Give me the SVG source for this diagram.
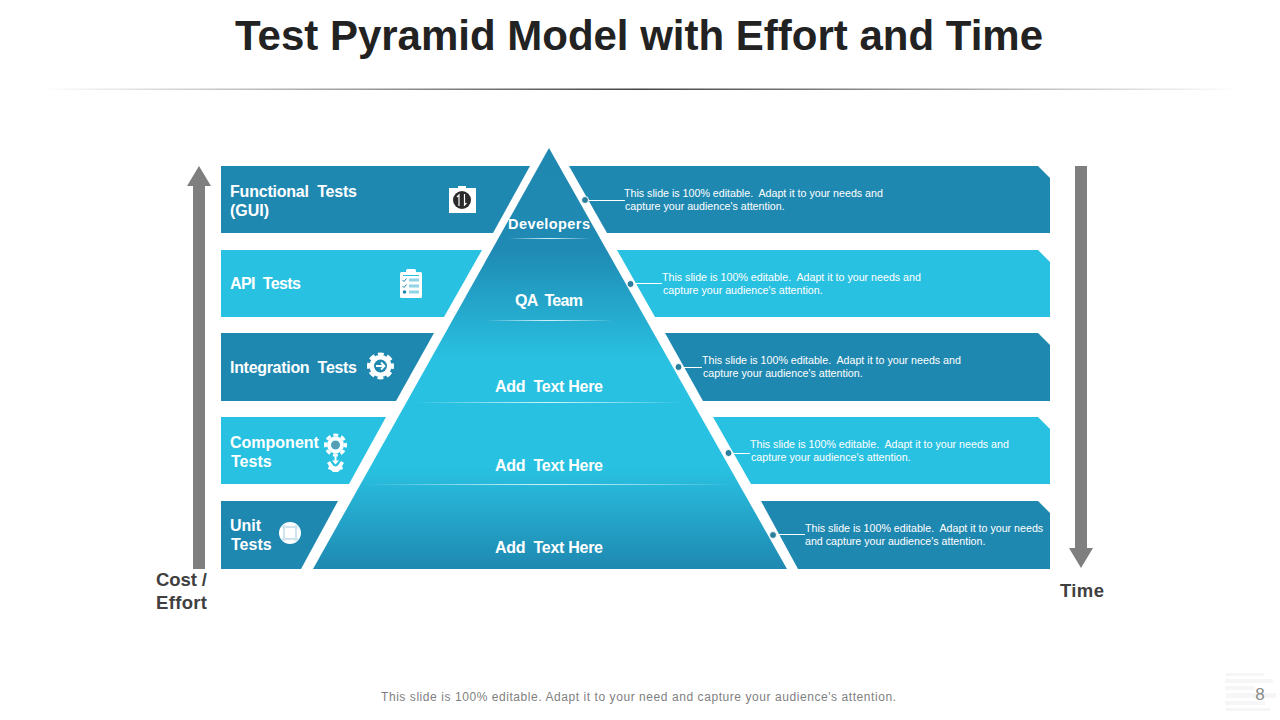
<svg xmlns="http://www.w3.org/2000/svg" width="1280" height="720" viewBox="0 0 1280 720">
<style>
text{font-family:"Liberation Sans",Arial,sans-serif;white-space:pre}
.dark{fill:#1f88b1}.light{fill:#29c1e1}
.lab{fill:#fff;font-weight:700;font-size:16px}
.desc{fill:#fff;font-size:10.67px}
.pt{fill:#fff;font-weight:700;font-size:16px;text-anchor:middle}
.ax{fill:#404040;font-weight:700;font-size:18.500px}
.lead{stroke:#fff;stroke-width:1;fill:none}
.dot{fill:#2a7f9c;stroke:#fff;stroke-width:1}
.arrow{fill:#7f7f7f}
.ic{fill:#fff}
</style>
<defs>
<linearGradient id="rule" x1="0" x2="1" y1="0" y2="0"><stop offset="0" stop-color="#fff"/><stop offset=".5" stop-color="#444"/><stop offset="1" stop-color="#fff"/></linearGradient>
<linearGradient id="pyr" gradientUnits="userSpaceOnUse" x1="0" y1="148" x2="0" y2="569">
<stop offset="0" stop-color="#1f88b1"/><stop offset=".24" stop-color="#1f8ab3"/><stop offset=".5" stop-color="#29c1e1"/><stop offset=".76" stop-color="#29c1e1"/><stop offset="1" stop-color="#1f88b1"/>
</linearGradient>
<linearGradient id="fade" x1="0" x2="1" y1="0" y2="0"><stop offset="0" stop-color="#fff" stop-opacity="0"/><stop offset=".5" stop-color="#cdf3fb"/><stop offset="1" stop-color="#fff" stop-opacity="0"/></linearGradient>
</defs>
<rect width="1280" height="720" fill="#fff"/>
<g id="title">
<text x="235" y="50" font-size="42" font-weight="700" fill="#222" textLength="808" lengthAdjust="spacing">Test Pyramid Model with Effort and Time</text>
<rect x="40" y="88.500" width="1200" height="1.500" fill="url(#rule)"/>
</g>
<g id="row-functional">
<polygon class="dark" points="221,166 530,166 493,233 221,233"/>
<text class="lab" x="230" y="197" textLength="127">Functional  Tests</text><text class="lab" x="230" y="216">(GUI)</text>
<rect class="ic" x="449" y="188" width="27" height="25"/><rect class="ic" x="458" y="186" width="8" height="3"/>
<circle cx="462" cy="200" r="9" fill="#2b2b2b"/><path d="M459 206V195l-2 2M464.500 194v11l2-2" stroke="#fff" stroke-width="1.200" fill="none"/>
</g>
<g id="row-api">
<polygon class="light" points="221,250 482,250 444,317 221,317"/>
<text class="lab" x="230" y="289" textLength="71">API  Tests</text>
<rect class="ic" x="400" y="272" width="22" height="26" rx="1.500"/><rect class="ic" x="406" y="269" width="10" height="4" rx="1.500"/>
<rect class="light" x="403" y="275" width="16" height="1"/>
<path d="M402.500 280l1.500 1.500 2.500-3M402.500 286l1.500 1.500 2.500-3" stroke="#1f88b1" stroke-width="1" fill="none"/><circle cx="404.500" cy="292" r="1.800" fill="#1f88b1"/><path d="M409 280h10M409 286h10M409 292h10" stroke="#8fd4e6" stroke-width="3"/>
</g>
<g id="row-integration">
<polygon class="dark" points="221,333 434,333 396,401 221,401"/>
<text class="lab" x="230" y="373" textLength="127">Integration  Tests</text>
<circle cx="380.500" cy="366" r="12" stroke="#fff" stroke-width="3" fill="none" stroke-dasharray="5.900 3.525" stroke-dashoffset="3"/>
<circle class="ic" cx="380.500" cy="366" r="11"/><circle cx="380.500" cy="366" r="6.500" fill="#1f88b1"/>
<path d="M376 366h8M381 362.500l3.500 3.500-3.500 3.500" stroke="#fff" stroke-width="1.800" fill="none"/>
</g>
<g id="row-component">
<polygon class="light" points="221,417 386,417 349,484 221,484"/>
<text class="lab" x="230" y="448">Component</text><text class="lab" x="231" y="467">Tests</text>
<circle cx="335.500" cy="445" r="10" stroke="#fff" stroke-width="3" fill="none" stroke-dasharray="4.800 3.054" stroke-dashoffset="2.400"/>
<circle cx="335.500" cy="445" r="6.500" fill="none" stroke="#fff" stroke-width="4"/><circle cx="335.500" cy="445" r="4" fill="#5a9db3"/>
<path d="M335.500 456v6" stroke="#fff" stroke-width="2"/><path d="M332 460.500h7l-3.500 4z" fill="#fff"/>
<path d="M327 463L330 461L332 464Q335.500 469 339 464L341 461L344 463L342 466L343 469L340 470L338 472L333 472L331 470L328 469L329 466Z" fill="#fff"/>
</g>
<g id="row-unit">
<polygon class="dark" points="221,501 338,501 301,569 221,569"/>
<text class="lab" x="230" y="531">Unit</text><text class="lab" x="231" y="550">Tests</text>
<circle class="ic" cx="290" cy="533" r="11"/>
<rect x="284" y="527" width="12" height="12" fill="none" stroke="#9fc9d8" stroke-width="1"/>
<g fill="#cfe5ee"><circle cx="284" cy="527" r="2"/><circle cx="296" cy="527" r="2"/><circle cx="284" cy="539" r="2"/><circle cx="296" cy="539" r="2"/></g>
</g>
<g id="desc-1">
<polygon class="dark" points="569,166 1038,166 1050,178 1050,233 607,233"/>
<text class="desc" x="624" y="197">This slide is 100% editable.  Adapt it to your needs and</text><text class="desc" x="625" y="210">capture your audience's attention.</text>
</g>
<g id="desc-2">
<polygon class="light" points="617,250 1038,250 1050,262 1050,317 655,317"/>
<text class="desc" x="662" y="281">This slide is 100% editable.  Adapt it to your needs and</text><text class="desc" x="663" y="294">capture your audience's attention.</text>
</g>
<g id="desc-3">
<polygon class="dark" points="665,333 1038,333 1050,345 1050,401 703,401"/>
<text class="desc" x="702" y="364">This slide is 100% editable.  Adapt it to your needs and</text><text class="desc" x="703" y="377">capture your audience's attention.</text>
</g>
<g id="desc-4">
<polygon class="light" points="713,417 1038,417 1050,429 1050,484 751,484"/>
<text class="desc" x="750" y="448">This slide is 100% editable.  Adapt it to your needs and</text><text class="desc" x="751" y="461">capture your audience's attention.</text>
</g>
<g id="desc-5">
<polygon class="dark" points="761,501 1038,501 1050,513 1050,569 798,569"/>
<text class="desc" x="805" y="532">This slide is 100% editable.  Adapt it to your needs</text><text class="desc" x="805" y="545">and capture your audience's attention.</text>
</g>
<g id="pyramid">
<polygon points="549,148 787,569 313,569" fill="url(#pyr)"/>
<rect x="508" y="238" width="82" height="1" fill="url(#fade)"/>
<rect x="485" y="320" width="128" height="1" fill="url(#fade)"/>
<rect x="415" y="402" width="268" height="1" fill="url(#fade)"/>
<rect x="365" y="484" width="368" height="1" fill="url(#fade)"/>
<text class="pt" x="508" y="229" style="font-size:14.500px;text-anchor:start" textLength="82">Developers</text>
<text class="pt" x="515" y="306" style="text-anchor:start" textLength="68">QA  Team</text>
<text class="pt" x="495" y="392" style="text-anchor:start" textLength="108">Add  Text Here</text>
<text class="pt" x="495" y="471" style="text-anchor:start" textLength="108">Add  Text Here</text>
<text class="pt" x="495" y="553" style="text-anchor:start" textLength="108">Add  Text Here</text>
</g>
<g id="connectors">
<path class="lead" d="M589 200.500H625M634 283.500H662M682 367.500H702M732 453.500H750M777 534.500H805"/>
<circle class="dot" cx="585" cy="200" r="3.500"/>
<circle class="dot" cx="630.500" cy="284" r="3.500"/>
<circle class="dot" cx="678.500" cy="367" r="3.500"/>
<circle class="dot" cx="728.500" cy="453" r="3.500"/>
<circle class="dot" cx="773" cy="535" r="3.500"/>
<polygon class="arrow" points="199,166 211,186 205,186 205,569 193,569 193,186 187,186"/>
<polygon class="arrow" points="1075,166 1087,166 1087,548 1093,548 1081,568 1069,548 1075,548"/>
</g>
<g id="axis-labels">
<text class="ax" x="156" y="586" textLength="51">Cost /</text><text class="ax" x="156" y="609" textLength="51">Effort</text>
<text class="ax" x="1060" y="597" textLength="44">Time</text>
</g>
<g id="footer">
<g fill="#f6f6f6"><rect x="1226" y="673" width="38" height="3"/><rect x="1225" y="679" width="48" height="4"/><rect x="1225" y="686" width="30" height="4"/><rect x="1226" y="693" width="50" height="5"/><rect x="1225" y="701" width="40" height="4"/><rect x="1226" y="708" width="44" height="3"/></g>
<text x="638.500" y="701" text-anchor="middle" font-size="12" fill="#7f7f7f" textLength="515" lengthAdjust="spacing">This slide is 100% editable. Adapt it to your need and capture your audience's attention.</text>
<text x="1260" y="700" text-anchor="middle" font-size="17" fill="#8a8a8a">8</text>
</g>
</svg>
